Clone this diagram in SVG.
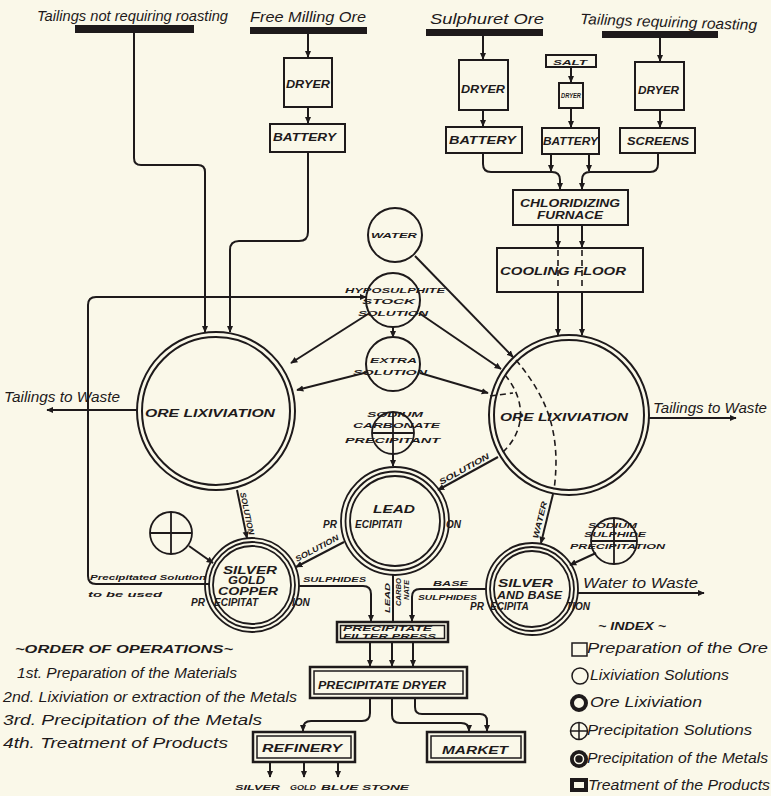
<svg xmlns="http://www.w3.org/2000/svg" width="771" height="796" viewBox="0 0 771 796">
<defs>
<marker id="a" viewBox="0 0 10 10" refX="9" refY="5" markerWidth="7" markerHeight="7" markerUnits="userSpaceOnUse" orient="auto"><path d="M0,0.5 L10,5 L0,9.5 z" fill="#1e1a1b"/></marker>
<style>
.ln{fill:none;stroke:#1e1a1b;stroke-width:2;stroke-linejoin:round}
.ar{fill:none;stroke:#1e1a1b;stroke-width:2;marker-end:url(#a)}
.ds{fill:none;stroke:#1e1a1b;stroke-width:1.6;stroke-dasharray:6 4}
.bx{fill:none;stroke:#1e1a1b;stroke-width:2}
.b2{fill:none;stroke:#1e1a1b;stroke-width:1.5}
.c{fill:none;stroke:#1e1a1b;stroke-width:2}
.cr{fill:none;stroke:#1e1a1b;stroke-width:1.8}
.bar{fill:#1e1a1b}
.h{font-family:"Liberation Sans",Arial,sans-serif;font-style:italic;font-size:15px;fill:#1e1a1b}
.t{font-family:"Liberation Sans",Arial,sans-serif;font-style:italic;font-weight:bold;font-size:10px;fill:#1e1a1b}
.s{font-family:"Liberation Sans",Arial,sans-serif;font-style:italic;font-weight:bold;font-size:8px;fill:#1e1a1b}
.x{font-family:"Liberation Sans",Arial,sans-serif;font-style:italic;font-weight:bold;font-size:6.5px;fill:#1e1a1b}
</style>
</defs>
<rect x="0" y="0" width="771" height="796" fill="#faf8e9"/>

<!-- sources -->
<g id="src-tailings-not-roasting">
<text class="h" x="37" y="21" textLength="191" lengthAdjust="spacingAndGlyphs">Tailings not requiring roasting</text>
<rect class="bar" x="75" y="25" width="119" height="8"/>
</g>
<g id="src-free-milling">
<text class="h" x="250" y="22" textLength="116" lengthAdjust="spacingAndGlyphs">Free Milling Ore</text>
<rect class="bar" x="250" y="27" width="117" height="7"/>
</g>
<g id="src-sulphuret">
<text class="h" x="430" y="24" textLength="114" lengthAdjust="spacingAndGlyphs">Sulphuret Ore</text>
<rect class="bar" x="426" y="29" width="117" height="7"/>
</g>
<g id="src-tailings-roasting">
<text class="h" x="580" y="24" textLength="177" lengthAdjust="spacingAndGlyphs" transform="rotate(2 580 24)">Tailings requiring roasting</text>
<rect class="bar" x="602" y="31" width="116" height="7"/>
</g>

<!-- preparation boxes -->
<g id="dryer1"><rect class="bx" x="284" y="58" width="48" height="49"/><text class="t" x="286" y="88" textLength="44" lengthAdjust="spacingAndGlyphs">DRYER</text></g>
<g id="battery1"><rect class="bx" x="270" y="124" width="75" height="28"/><text class="t" x="273" y="141" textLength="63" lengthAdjust="spacingAndGlyphs">BATTERY</text></g>
<g id="dryer2"><rect class="bx" x="459" y="60" width="49" height="50"/><text class="t" x="461" y="93" textLength="44" lengthAdjust="spacingAndGlyphs">DRYER</text></g>
<g id="battery2"><rect class="bx" x="446" y="127" width="76" height="26"/><text class="t" x="449" y="144" textLength="67" lengthAdjust="spacingAndGlyphs">BATTERY</text></g>
<g id="salt"><rect class="bx" x="546" y="55" width="50" height="12"/><text class="s" x="553" y="64.5" textLength="34" lengthAdjust="spacingAndGlyphs">SALT</text></g>
<g id="dryer3"><rect class="bx" x="559" y="83" width="24" height="25"/><text class="x" x="561" y="98" font-size="5" textLength="20" lengthAdjust="spacingAndGlyphs">DRYER</text></g>
<g id="battery3"><rect class="bx" x="542" y="128" width="57" height="26"/><text class="t" x="543" y="145" textLength="55" lengthAdjust="spacingAndGlyphs">BATTERY</text></g>
<g id="dryer4"><rect class="bx" x="635" y="62" width="49" height="48"/><text class="t" x="638" y="94" textLength="41" lengthAdjust="spacingAndGlyphs">DRYER</text></g>
<g id="screens"><rect class="bx" x="620" y="128" width="75" height="25"/><text class="t" x="627" y="145" textLength="62" lengthAdjust="spacingAndGlyphs">SCREENS</text></g>
<g id="chloridizing-furnace"><rect class="bx" x="513" y="190" width="115" height="35"/>
<text class="t" x="520" y="207" textLength="100" lengthAdjust="spacingAndGlyphs">CHLORIDIZING</text>
<text class="t" x="537" y="219" textLength="66" lengthAdjust="spacingAndGlyphs">FURNACE</text></g>
<g id="cooling-floor"><rect class="bx" x="497" y="248" width="146" height="44"/>
<path class="ds" d="M558,250 V290 M582,250 V290"/>
<text class="t" x="500" y="275" textLength="126" lengthAdjust="spacingAndGlyphs">COOLING FLOOR</text></g>

<!-- solution circles -->
<g id="water"><circle class="c" cx="395" cy="235" r="27"/><text class="s" x="371" y="238" textLength="46" lengthAdjust="spacingAndGlyphs">WATER</text></g>
<g id="hyposulphite"><circle class="c" cx="393" cy="300" r="27"/>
<text class="s" x="345" y="293" textLength="100" lengthAdjust="spacingAndGlyphs">HYPOSULPHITE</text>
<text class="s" x="362" y="304" textLength="53" lengthAdjust="spacingAndGlyphs">STOCK</text>
<text class="s" x="358" y="316" textLength="70" lengthAdjust="spacingAndGlyphs">SOLUTION</text></g>
<g id="extra-solution"><circle class="c" cx="393" cy="364" r="27"/>
<text class="s" x="370" y="363" textLength="47" lengthAdjust="spacingAndGlyphs">EXTRA</text>
<text class="s" x="353" y="375" textLength="74" lengthAdjust="spacingAndGlyphs">SOLUTION</text></g>

<!-- ore lixiviation -->
<g id="ore-lix-left"><circle class="c" cx="216" cy="411" r="79"/><circle class="c" cx="216" cy="411" r="74"/>
<text class="t" x="145" y="417" textLength="130" lengthAdjust="spacingAndGlyphs">ORE LIXIVIATION</text></g>
<g id="ore-lix-right"><circle class="c" cx="569" cy="415" r="80"/><circle class="c" cx="569" cy="415" r="75"/>
<path class="ds" d="M505,375 C526,400 526,430 503,452 M490,396 L513,393 M516,360 C545,395 562,430 554,490"/>
<text class="t" x="500" y="421" textLength="128" lengthAdjust="spacingAndGlyphs">ORE LIXIVIATION</text></g>

<!-- precipitant circles -->
<g id="sodium-carbonate"><circle class="cr" cx="393" cy="433" r="21"/><path class="cr" d="M372,433 H414 M393,412 V454"/>
<text class="s" x="367" y="417" textLength="56" lengthAdjust="spacingAndGlyphs">SODIUM</text>
<text class="s" x="353" y="428" textLength="87" lengthAdjust="spacingAndGlyphs">CARBONATE</text>
<text class="s" x="345" y="443" textLength="95" lengthAdjust="spacingAndGlyphs">PRECIPITANT</text></g>
<g id="precip-solution"><circle class="cr" cx="171" cy="533" r="21"/><path class="cr" d="M150,533 H192 M171,512 V554"/></g>
<g id="sodium-sulphide"><circle class="cr" cx="614" cy="541" r="23"/><path class="cr" d="M591,541 H637 M614,518 V564"/>
<text class="x" x="588" y="528" textLength="49" lengthAdjust="spacingAndGlyphs">SODIUM</text>
<text class="x" x="584" y="537" textLength="62" lengthAdjust="spacingAndGlyphs">SULPHIDE</text>
<text class="s" x="570" y="549" textLength="95" lengthAdjust="spacingAndGlyphs">PRECIPITATION</text></g>

<!-- precipitation of metals -->
<g id="lead-precipitation">
<text class="t" x="373" y="513" textLength="42" lengthAdjust="spacingAndGlyphs">LEAD</text>
<text class="t" y="528"><tspan x="323">PR</tspan><tspan x="355">ECIPITATI</tspan><tspan x="446">ON</tspan></text>
<circle class="cr" cx="395" cy="521" r="54"/><circle class="cr" cx="395" cy="521" r="49.5"/><circle class="cr" cx="395" cy="521" r="45"/></g>
<g id="silver-gold-copper">
<text class="t" x="223" y="574" textLength="54" lengthAdjust="spacingAndGlyphs">SILVER</text>
<text class="t" x="228" y="584" textLength="37" lengthAdjust="spacingAndGlyphs">GOLD</text>
<text class="t" x="218" y="595" textLength="60" lengthAdjust="spacingAndGlyphs">COPPER</text>
<text class="t" y="606"><tspan x="191">PR</tspan><tspan x="214">ECIPITAT</tspan><tspan x="292">ION</tspan></text>
<circle class="cr" cx="252" cy="585" r="47"/><circle class="cr" cx="252" cy="585" r="43"/><circle class="cr" cx="252" cy="585" r="39"/></g>
<g id="silver-base">
<text class="t" x="498" y="587" textLength="55" lengthAdjust="spacingAndGlyphs">SILVER</text>
<text class="t" x="497" y="599" textLength="65" lengthAdjust="spacingAndGlyphs">AND BASE</text>
<text class="t" y="610"><tspan x="470">PR</tspan><tspan x="490">ECIPITA</tspan><tspan x="566">TION</tspan></text>
<circle class="cr" cx="532" cy="589" r="46"/><circle class="cr" cx="532" cy="589" r="42"/><circle class="cr" cx="532" cy="589" r="38"/></g>

<!-- treatment boxes -->
<g id="filter-press"><rect x="337" y="622" width="111" height="20" fill="none" stroke="#1e1a1b" stroke-width="2.5"/><rect class="b2" x="340.5" y="625.5" width="104" height="13"/>
<text class="x" x="343" y="631" textLength="89" lengthAdjust="spacingAndGlyphs">PRECIPITATE</text>
<text class="x" x="343" y="638.5" textLength="93" lengthAdjust="spacingAndGlyphs">FILTER PRESS</text></g>
<g id="precipitate-dryer"><rect x="310" y="667" width="157" height="31" fill="none" stroke="#1e1a1b" stroke-width="2.5"/><rect class="b2" x="314" y="671" width="149" height="23"/>
<text class="t" x="318" y="689" textLength="128" lengthAdjust="spacingAndGlyphs">PRECIPITATE DRYER</text></g>
<g id="refinery"><rect x="253" y="732" width="102" height="30" fill="none" stroke="#1e1a1b" stroke-width="2.5"/><rect class="b2" x="257" y="736" width="94" height="22"/>
<text class="t" x="262" y="752" textLength="80" lengthAdjust="spacingAndGlyphs">REFINERY</text></g>
<g id="market"><rect x="427" y="732" width="98" height="30" fill="none" stroke="#1e1a1b" stroke-width="2.5"/><rect class="b2" x="431" y="736" width="90" height="22"/>
<text class="t" x="442" y="754" textLength="66" lengthAdjust="spacingAndGlyphs">MARKET</text></g>
<g id="products">
<text class="x" x="235" y="790" textLength="45" lengthAdjust="spacingAndGlyphs">SILVER</text>
<text class="x" x="290" y="790" textLength="26" lengthAdjust="spacingAndGlyphs">GOLD</text>
<text class="x" x="321" y="790" textLength="88" lengthAdjust="spacingAndGlyphs">BLUE STONE</text></g>

<!-- connectors -->
<g id="connectors">
<path class="ar" d="M134,33 V158 Q134,165 141,165 H198 Q205,165 205,172 V332"/>
<path class="ar" d="M308,34 V57"/>
<path class="ar" d="M308,107 V123"/>
<path class="ar" d="M308,152 V232 Q308,241 299,241 H239 Q230,241 230,250 V332"/>
<path class="ar" d="M483,36 V59"/>
<path class="ar" d="M483,110 V126"/>
<path class="ar" d="M571,67 V82"/>
<path class="ar" d="M571,108 V127"/>
<path class="ar" d="M660,38 V61"/>
<path class="ar" d="M660,110 V127"/>
<path class="ar" d="M483,153 V164 Q483,172 491,172 H552 Q560,172 560,180 V189"/>
<path class="ar" d="M551,154 V171"/>
<path class="ar" d="M589,154 V171"/>
<path class="ar" d="M658,153 V164 Q658,172 650,172 H590 Q582,172 582,180 V189"/>
<path class="ar" d="M558,225 V247"/>
<path class="ar" d="M582,225 V247"/>
<path class="ar" d="M558,292 V335"/>
<path class="ar" d="M582,292 V335"/>
<path class="ar" d="M415,256 L513,357"/>
<path class="ar" d="M419,313 L501,369"/>
<path class="ar" d="M368,314 L291,363"/>
<path class="ar" d="M393,327 V337" marker-end="none"/>
<path class="ar" d="M368,372 L297,390"/>
<path class="ar" d="M420,373 L488,393"/>
<path class="ar" d="M210,584 H96 Q88,584 88,576 V305 Q88,297 96,297 H366"/>
<path class="ar" d="M137,410 H47"/>
<path class="ar" d="M649,418 H736"/>
<path class="ar" d="M393,454 V466"/>
<path class="ar" d="M237,490 L247,538"/>
<path class="ar" d="M189,546 L213,563"/>
<path class="ar" d="M344,542 L296,567"/>
<path class="ar" d="M498,457 L438,490"/>
<path class="ar" d="M553,494 L541,543"/>
<path class="ar" d="M596,553 L570,565"/>
<path class="ar" d="M578,593 H704"/>
<path class="ar" d="M299,586 H363 Q371,586 371,594 V621"/>
<path class="ln" d="M393,575 V622"/>
<path class="ar" d="M486,589 H420 Q412,589 412,597 V621"/>
<path class="ar" d="M370,642 V666"/>
<path class="ar" d="M392,642 V666"/>
<path class="ar" d="M413,642 V666"/>
<path class="ar" d="M370,698 V713 Q370,721 362,721 H311 Q303,721 303,729 V731"/>
<path class="ar" d="M392,698 V715 Q392,723 400,723 H461 Q469,723 469,730 V731"/>
<path class="ar" d="M415,698 V707 Q415,714 422,714 H480 Q487,714 487,721 V731"/>
<path class="ar" d="M270,762 V777"/>
<path class="ar" d="M304,762 V777"/>
<path class="ar" d="M338,762 V777"/>
<text class="h" x="4" y="402" textLength="116" lengthAdjust="spacingAndGlyphs">Tailings to Waste</text>
<text class="h" x="653" y="413" textLength="114" lengthAdjust="spacingAndGlyphs">Tailings to Waste</text>
<text class="h" x="583" y="588" textLength="115" lengthAdjust="spacingAndGlyphs">Water to Waste</text>
<text class="s" x="90" y="580" textLength="116" lengthAdjust="spacingAndGlyphs" font-size="9">Precipitated Solution</text>
<text class="s" x="88" y="597" textLength="74" lengthAdjust="spacingAndGlyphs" font-size="9">to be used</text>
<text class="s" transform="translate(240,493) rotate(78)" textLength="43" lengthAdjust="spacingAndGlyphs">SOLUTION</text>
<text class="s" transform="translate(297,562) rotate(-28)" textLength="48" lengthAdjust="spacingAndGlyphs">SOLUTION</text>
<text class="s" transform="translate(441,485) rotate(-29)" textLength="56" lengthAdjust="spacingAndGlyphs">SOLUTION</text>
<text class="s" transform="translate(538,539) rotate(-76)" textLength="38" lengthAdjust="spacingAndGlyphs">WATER</text>
<text class="s" x="303" y="582" textLength="63" lengthAdjust="spacingAndGlyphs">SULPHIDES</text>
<text class="s" x="433" y="586" textLength="35" lengthAdjust="spacingAndGlyphs">BASE</text>
<text class="s" x="418" y="600" textLength="59" lengthAdjust="spacingAndGlyphs">SULPHIDES</text>
<text class="x" transform="translate(390,613) rotate(-90)" textLength="30" lengthAdjust="spacingAndGlyphs">LEAD</text>
<text class="x" transform="translate(401,606) rotate(-90)" textLength="28" lengthAdjust="spacingAndGlyphs">CARBO</text>
<text class="x" transform="translate(409,600) rotate(-90)" textLength="20" lengthAdjust="spacingAndGlyphs">NATE</text>
</g>

<!-- order of operations -->
<g id="order-of-operations">
<text class="t" x="15" y="653" textLength="218" lengthAdjust="spacingAndGlyphs">~ORDER OF OPERATIONS~</text>
<text class="h" x="17" y="678" textLength="220" lengthAdjust="spacingAndGlyphs">1st. Preparation of the Materials</text>
<text class="h" x="3" y="702" textLength="294" lengthAdjust="spacingAndGlyphs">2nd. Lixiviation or extraction of the Metals</text>
<text class="h" x="3" y="725" textLength="259" lengthAdjust="spacingAndGlyphs">3rd. Precipitation of the Metals</text>
<text class="h" x="3" y="748" textLength="225" lengthAdjust="spacingAndGlyphs">4th. Treatment of Products</text>
</g>

<!-- index -->
<g id="index">
<text class="t" x="598" y="630" textLength="68" lengthAdjust="spacingAndGlyphs">~ INDEX ~</text>
<rect x="572" y="643" width="15" height="13" fill="none" stroke="#1e1a1b" stroke-width="1.5"/>
<text class="h" x="587" y="653" font-size="13" textLength="181" lengthAdjust="spacingAndGlyphs">Preparation of the Ore</text>
<circle cx="580" cy="676" r="8" fill="none" stroke="#1e1a1b" stroke-width="1.5"/>
<text class="h" x="590" y="680" font-size="13" textLength="139" lengthAdjust="spacingAndGlyphs">Lixiviation Solutions</text>
<circle cx="579" cy="703" r="7" fill="none" stroke="#1e1a1b" stroke-width="4"/>
<text class="h" x="590" y="707" font-size="13" textLength="112" lengthAdjust="spacingAndGlyphs">Ore Lixiviation</text>
<circle cx="579" cy="731" r="8.5" fill="none" stroke="#1e1a1b" stroke-width="1.5"/><path d="M570.5,731 H587.5 M579,722.5 V739.5" stroke="#1e1a1b" stroke-width="1.5"/>
<text class="h" x="587" y="735" font-size="13" textLength="165" lengthAdjust="spacingAndGlyphs">Precipitation Solutions</text>
<circle cx="579" cy="759" r="9" fill="#1e1a1b"/><circle cx="579" cy="759" r="4.5" fill="none" stroke="#faf8e9" stroke-width="1.5"/>
<text class="h" x="587" y="763" font-size="13" textLength="181" lengthAdjust="spacingAndGlyphs">Precipitation of the Metals</text>
<rect x="570" y="778" width="18" height="14" fill="#1e1a1b"/><rect x="574" y="782" width="10" height="6" fill="#faf8e9"/>
<text class="h" x="588" y="790" font-size="13" textLength="182" lengthAdjust="spacingAndGlyphs">Treatment of the Products</text>
</g>
</svg>
